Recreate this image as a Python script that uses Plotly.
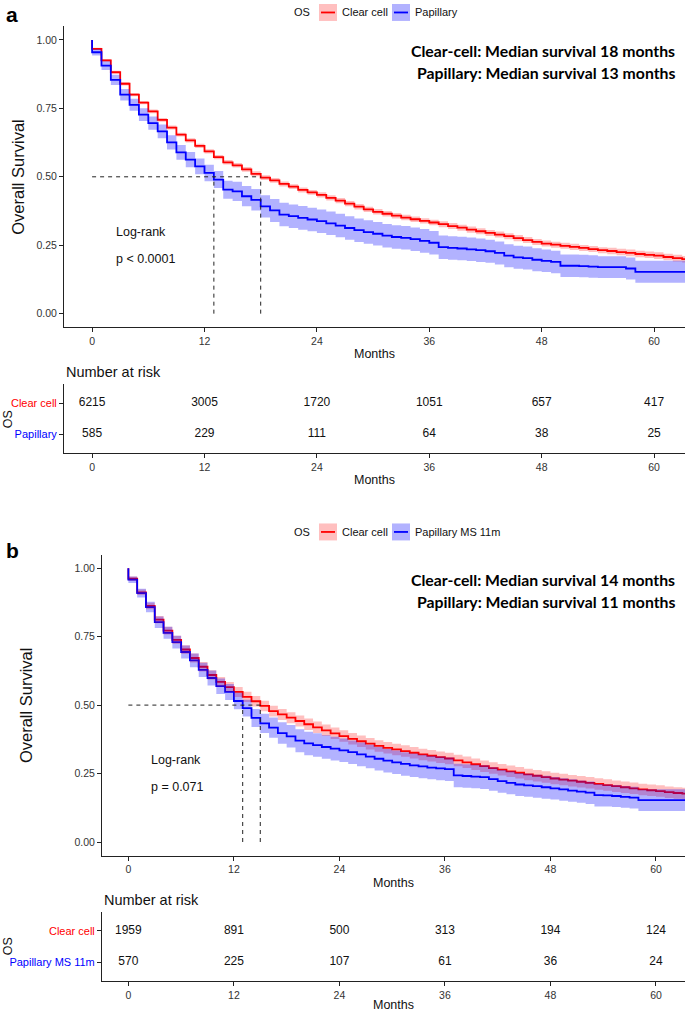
import plotly.graph_objects as go

W, H = 685, 1012

# ---------------- data ----------------
months = list(range(64))          # monthly event times 0..63
follow_up_end = 64                # last follow-up (curves run off the axis)
risk_times = [0, 12, 24, 36, 48, 60]
groups_a = ["Clear cell", "Papillary"]
groups_b = ["Clear cell", "Papillary MS 11m"]

# Panel a : survival estimates at each month
a_clear = [0.967, 0.925, 0.882, 0.840, 0.800, 0.771, 0.739, 0.708, 0.680, 0.654, 0.633, 0.613,
           0.593, 0.572, 0.553, 0.542, 0.527, 0.511, 0.497, 0.487, 0.474, 0.464, 0.452, 0.443,
           0.434, 0.423, 0.413, 0.402, 0.391, 0.381, 0.372, 0.365, 0.358, 0.351, 0.345, 0.339,
           0.333, 0.327, 0.320, 0.314, 0.307, 0.301, 0.295, 0.289, 0.283, 0.276, 0.269, 0.262,
           0.256, 0.252, 0.248, 0.244, 0.240, 0.236, 0.232, 0.229, 0.225, 0.222, 0.218, 0.215,
           0.212, 0.207, 0.203, 0.199]
a_clear_hw = [0.004, 0.005, 0.005, 0.006, 0.006, 0.006, 0.007, 0.007, 0.007, 0.007, 0.008, 0.008,
              0.008, 0.008, 0.008, 0.008, 0.009, 0.009, 0.009, 0.009, 0.009, 0.009, 0.009, 0.009,
              0.010, 0.010, 0.010, 0.010, 0.010, 0.010, 0.010, 0.010, 0.010, 0.010, 0.010, 0.010,
              0.010, 0.011, 0.011, 0.011, 0.011, 0.011, 0.011, 0.011, 0.011, 0.011, 0.011, 0.011,
              0.011, 0.011, 0.011, 0.011, 0.011, 0.011, 0.011, 0.012, 0.012, 0.012, 0.012, 0.012,
              0.012, 0.012, 0.012, 0.012]
a_pap = [0.955, 0.906, 0.854, 0.800, 0.763, 0.727, 0.696, 0.666, 0.626, 0.589, 0.563, 0.538,
         0.514, 0.490, 0.453, 0.447, 0.429, 0.416, 0.392, 0.377, 0.362, 0.356, 0.350, 0.344,
         0.338, 0.330, 0.322, 0.313, 0.305, 0.298, 0.292, 0.285, 0.280, 0.277, 0.272, 0.266,
         0.259, 0.243, 0.240, 0.238, 0.235, 0.232, 0.228, 0.222, 0.212, 0.206, 0.203, 0.197,
         0.193, 0.189, 0.175, 0.175, 0.174, 0.172, 0.170, 0.170, 0.170, 0.165, 0.153, 0.153,
         0.153, 0.153, 0.153, 0.153]
a_pap_hw = [0.012, 0.016, 0.019, 0.021, 0.022, 0.023, 0.024, 0.025, 0.026, 0.027, 0.028, 0.029,
            0.030, 0.031, 0.033, 0.035, 0.037, 0.039, 0.041, 0.042, 0.043, 0.043, 0.043, 0.043,
            0.043, 0.043, 0.043, 0.043, 0.043, 0.043, 0.043, 0.043, 0.043, 0.043, 0.043, 0.043,
            0.043, 0.043, 0.043, 0.043, 0.043, 0.043, 0.042, 0.042, 0.042, 0.042, 0.042, 0.042,
            0.041, 0.041, 0.041, 0.041, 0.041, 0.041, 0.040, 0.040, 0.040, 0.040, 0.040, 0.040,
            0.040, 0.040, 0.040, 0.040]
a_risk_clear = [6215, 3005, 1720, 1051, 657, 417]
a_risk_pap = [585, 229, 111, 64, 38, 25]
a_medians = [18, 13]
a_pval = "p < 0.0001"
a_texts = ["Clear-cell: Median survival 18 months", "Papillary: Median survival 13 months"]

# Panel b
b_clear = [0.962, 0.912, 0.862, 0.812, 0.772, 0.738, 0.703, 0.672, 0.640, 0.610, 0.585, 0.566,
           0.548, 0.530, 0.514, 0.497, 0.478, 0.466, 0.454, 0.442, 0.430, 0.419, 0.408, 0.397,
           0.387, 0.377, 0.368, 0.359, 0.351, 0.344, 0.338, 0.332, 0.326, 0.320, 0.315, 0.310,
           0.305, 0.298, 0.291, 0.284, 0.277, 0.270, 0.264, 0.258, 0.253, 0.247, 0.242, 0.237,
           0.232, 0.228, 0.224, 0.220, 0.216, 0.212, 0.208, 0.204, 0.200, 0.196, 0.192, 0.189,
           0.186, 0.182, 0.179, 0.177]
b_clear_hw = [0.008, 0.010, 0.012, 0.013, 0.014, 0.015, 0.016, 0.016, 0.017, 0.017, 0.018, 0.018,
              0.018, 0.019, 0.019, 0.019, 0.020, 0.020, 0.020, 0.020, 0.021, 0.021, 0.021, 0.021,
              0.021, 0.021, 0.021, 0.021, 0.021, 0.021, 0.021, 0.021, 0.021, 0.021, 0.021, 0.021,
              0.021, 0.021, 0.021, 0.021, 0.021, 0.021, 0.021, 0.021, 0.021, 0.021, 0.021, 0.021,
              0.021, 0.021, 0.021, 0.021, 0.021, 0.021, 0.021, 0.021, 0.021, 0.021, 0.021, 0.021,
              0.021, 0.021, 0.021, 0.021]
b_pap = [0.958, 0.909, 0.858, 0.803, 0.764, 0.730, 0.694, 0.663, 0.629, 0.599, 0.569, 0.548,
         0.515, 0.489, 0.453, 0.433, 0.418, 0.398, 0.386, 0.370, 0.360, 0.354, 0.347, 0.341,
         0.335, 0.328, 0.320, 0.312, 0.304, 0.297, 0.291, 0.285, 0.280, 0.276, 0.272, 0.269,
         0.266, 0.243, 0.241, 0.239, 0.237, 0.230, 0.222, 0.216, 0.210, 0.207, 0.204, 0.200,
         0.196, 0.192, 0.188, 0.184, 0.180, 0.171, 0.170, 0.168, 0.165, 0.162, 0.153, 0.153,
         0.153, 0.153, 0.153, 0.153]
b_pap_hw = a_pap_hw
b_risk_clear = [1959, 891, 500, 313, 194, 124]
b_risk_pap = [570, 225, 107, 61, 36, 24]
b_medians = [15, 13]
b_pval = "p = 0.071"
b_texts = ["Clear-cell: Median survival 14 months", "Papillary: Median survival 11 months"]

# ---------------- style ----------------
RED, BLUE = "#FF0000", "#0000FF"
RED_BAND, BLUE_BAND = "rgba(255,0,0,0.25)", "rgba(0,0,255,0.30)"
SANS = "Liberation Sans, Arial, sans-serif"
BOLD = "Lato, Open Sans, sans-serif"


def px(x):
    return x / W


def py(y):
    return 1 - y / H


fig = go.Figure()


def add_panel(xa, ya, xt, yt, clear, clear_hw, pap, pap_hw, medians, risk_c, risk_p):
    xs = [0] + months + [follow_up_end]
    for vals, col in ((clear, RED), (pap, BLUE)):
        fig.add_trace(go.Scatter(x=xs, y=[1.0] + vals + [vals[-1]], mode="lines",
                                 line=dict(color=col, width=1.8, shape="hv"),
                                 xaxis=xa, yaxis=ya, showlegend=False, hoverinfo="skip"))
    for vals, hw, band in ((clear, clear_hw, RED_BAND), (pap, pap_hw, BLUE_BAND)):
        lo = [1.0] + [v - h for v, h in zip(vals, hw)]
        hi = [1.0] + [v + h for v, h in zip(vals, hw)]
        lo = lo + [lo[-1]]
        hi = hi + [hi[-1]]
        fig.add_trace(go.Scatter(x=xs, y=lo, mode="lines", line=dict(width=0, shape="hv"),
                                 xaxis=xa, yaxis=ya, showlegend=False, hoverinfo="skip"))
        fig.add_trace(go.Scatter(x=xs, y=hi, mode="lines", line=dict(width=0, shape="hv"),
                                 fill="tonexty", fillcolor=band,
                                 xaxis=xa, yaxis=ya, showlegend=False, hoverinfo="skip"))
    # median lines
    dash = dict(color="#222222", width=1, dash="4px,4px")
    fig.add_trace(go.Scatter(x=[0, max(medians)], y=[0.5, 0.5], mode="lines", line=dash,
                             xaxis=xa, yaxis=ya, showlegend=False, hoverinfo="skip"))
    for m in medians:
        fig.add_trace(go.Scatter(x=[m, m], y=[0, 0.5], mode="lines", line=dash,
                                 xaxis=xa, yaxis=ya, showlegend=False, hoverinfo="skip"))
    # risk table
    for row, vals in ((2, risk_c), (1, risk_p)):
        fig.add_trace(go.Scatter(x=risk_times, y=[row] * len(risk_times), mode="text",
                                 text=[str(v) for v in vals],
                                 textfont=dict(family=SANS, size=12, color="#111111"),
                                 xaxis=xt, yaxis=yt, showlegend=False, hoverinfo="skip"))


add_panel("x", "y", "x2", "y2", a_clear, a_clear_hw, a_pap, a_pap_hw, a_medians,
          a_risk_clear, a_risk_pap)
add_panel("x3", "y3", "x4", "y4", b_clear, b_clear_hw, b_pap, b_pap_hw, b_medians,
          b_risk_clear, b_risk_pap)

xr = [-3, 63.3]
common = dict(showline=True, linecolor="#222222", linewidth=1, ticks="outside", ticklen=4,
              tickcolor="#222222", showgrid=False, zeroline=False,
              tickfont=dict(family=SANS, size=10.5, color="#333333"))
xcommon = dict(common, range=xr, tickvals=risk_times,
               title=dict(text="Months", font=dict(family=SANS, size=12.5, color="#111111"),
                          standoff=3))


def row_labels(names):
    return [f"<span style='color:{RED}'>{names[0]}</span>",
            f"<span style='color:{BLUE}'>{names[1]}</span>"]


layout = dict(
    width=W, height=H, margin=dict(l=0, r=0, t=0, b=0),
    paper_bgcolor="white", plot_bgcolor="white", showlegend=False,
    xaxis=dict(xcommon, domain=[px(64), 1], anchor="y"),
    yaxis=dict(common, domain=[py(328), py(26.3)], range=[-0.05, 1.05], anchor="x",
               tickvals=[0, 0.25, 0.5, 0.75, 1.0], ticktext=["0.00", "0.25", "0.50", "0.75", "1.00"]),
    xaxis2=dict(xcommon, domain=[px(64), 1], anchor="y2"),
    yaxis2=dict(common, domain=[py(454), py(385)], range=[0.4, 2.6], anchor="x2",
                tickvals=[2, 1], ticktext=row_labels(groups_a),
                tickfont=dict(family=SANS, size=11)),
    xaxis3=dict(xcommon, domain=[px(102), 1], anchor="y3"),
    yaxis3=dict(common, domain=[py(857.4), py(555.6)], range=[-0.05, 1.05], anchor="x3",
                tickvals=[0, 0.25, 0.5, 0.75, 1.0], ticktext=["0.00", "0.25", "0.50", "0.75", "1.00"]),
    xaxis4=dict(xcommon, domain=[px(102), 1], anchor="y4"),
    yaxis4=dict(common, domain=[py(983), py(914)], range=[0.4, 2.6], anchor="x4",
                tickvals=[2, 1], ticktext=row_labels(groups_b),
                tickfont=dict(family=SANS, size=11)),
)
fig.update_layout(**layout)

ann = []
shapes = []


def paper_text(text, x, y, size, family=SANS, xanchor="center", angle=0, color="#111111", bold=False):
    ann.append(dict(text=f"<b>{text}</b>" if bold else text, x=px(x), y=py(y), xref="paper", yref="paper",
                    xanchor=xanchor, yanchor="middle", showarrow=False, textangle=angle,
                    font=dict(family=family, size=size, color=color)))


for top, xa, ya, label, names, texts, pval, ytitle_x, os_y, nar_y, nar_x in (
        (0, "x", "y", "a", groups_a, a_texts, a_pval, 18, 420, 373, 64),
        (521, "x3", "y3", "b", groups_b, b_texts, b_pval, 26, 948, 902, 102)):
    # panel letter
    paper_text(label, 12, top + (15 if top == 0 else 31), 21, bold=True, color="black")
    # legend
    ly = top + (12.5 if top == 0 else 12)
    paper_text("OS", 312, ly, 11, xanchor="right")
    for (x0, col, band, name) in ((319, RED, RED_BAND, names[0]), (392, BLUE, BLUE_BAND, names[1])):
        shapes.append(dict(type="rect", xref="paper", yref="paper", x0=px(x0), x1=px(x0 + 18),
                           y0=py(ly - 8.5), y1=py(ly + 8.5), fillcolor=band, line=dict(width=0)))
        shapes.append(dict(type="line", xref="paper", yref="paper", x0=px(x0 + 2), x1=px(x0 + 16),
                           y0=py(ly), y1=py(ly), line=dict(color=col, width=1.8)))
        paper_text(name, x0 + 21, ly, 11, xanchor="left")
    # y title
    yc = (328 + 26.3) / 2 if top == 0 else (857.4 + 555.6) / 2
    paper_text("Overall Survival", ytitle_x, yc, 16.5, angle=-90)
    # risk table titles
    paper_text("Number at risk", nar_x, nar_y, 14.5, xanchor="left")
    paper_text("OS", 8, os_y, 12.5, angle=-90)
    # median text and log-rank, in data coordinates
    for t, yv in zip(texts, (0.96, 0.88)):
        ann.append(dict(text=f"<b>{t}</b>", x=62.4, y=yv, xref=xa, yref=ya, xanchor="right",
                        yanchor="middle", showarrow=False,
                        font=dict(family=BOLD, size=15.8, color="black")))
    for t, yv in (("Log-rank", 0.30), (pval, 0.20)):
        ann.append(dict(text=t, x=2.3, y=yv, xref=xa, yref=ya, xanchor="left", yanchor="middle",
                        showarrow=False, font=dict(family=SANS, size=12.5, color="#111111")))

fig.update_layout(annotations=ann, shapes=shapes)
fig.write_html("out.html", config={"displayModeBar": False},
               post_script="document.body.style.margin='0';")
